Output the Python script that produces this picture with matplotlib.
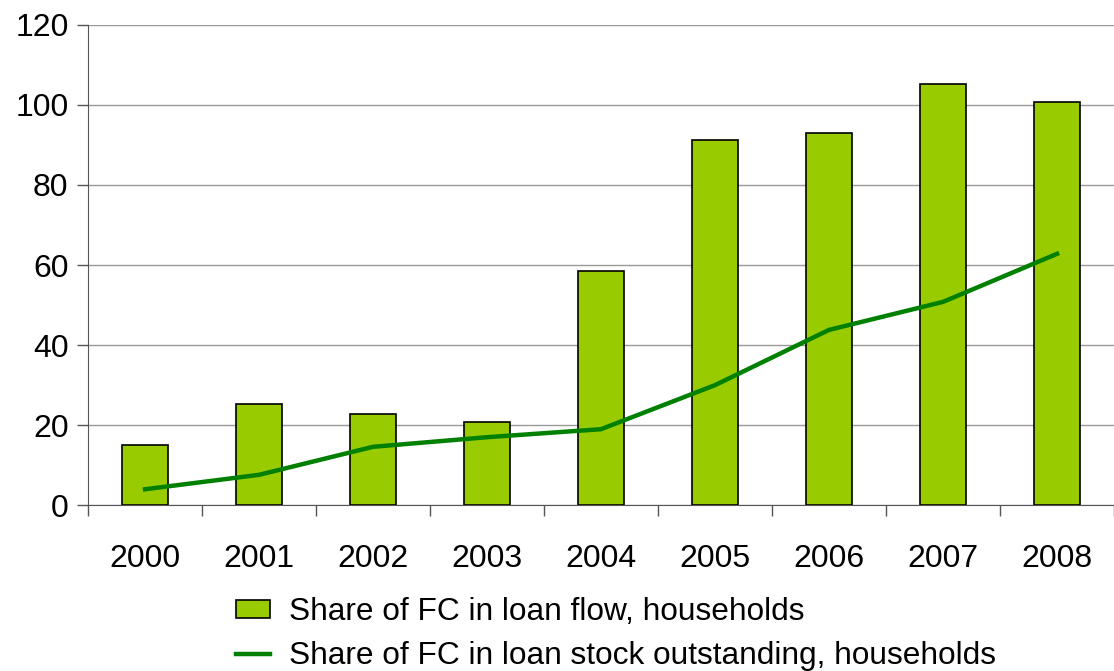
import numpy as np
import matplotlib.pyplot as plt

plt.rcParams['font.family'] = ['Liberation Sans', 'DejaVu Sans']

years = ['2000', '2001', '2002', '2003', '2004', '2005', '2006', '2007', '2008']
loan_flow = [15.0, 25.2, 22.9, 20.9, 58.6, 91.3, 93.1, 105.3, 100.7]
loan_stock = [4.0, 7.6, 14.6, 17.0, 19.0, 30.0, 43.8, 50.8, 62.8]

fig = plt.figure(figsize=(11.14, 6.71), dpi=100)
ax = fig.add_axes([0.079, 0.247, 0.921, 0.716])

x = np.arange(len(years))
bars = ax.bar(x, loan_flow, width=0.4, color='#99CC00', edgecolor='black', linewidth=1.2,
              label='Share of FC in loan flow, households', zorder=2)
line, = ax.plot(x, loan_stock, color='#008000', linewidth=3.2,
                label='Share of FC in loan stock outstanding, households', zorder=3)

ax.set_ylim(0, 120)
ax.set_yticks(range(0, 121, 20))
ax.set_xlim(-0.5, len(years) - 0.5)
ax.set_xticks(np.arange(-0.5, len(years), 1.0))
ax.set_xticklabels([])
ax.set_xticks(x, minor=True)
ax.set_xticklabels(years, minor=True)
ax.tick_params(axis='x', which='minor', length=0, pad=28, labelsize=23)
ax.tick_params(axis='x', which='major', length=8, width=1, color='#555555')
ax.tick_params(axis='y', length=8, width=1, color='#555555', labelsize=23, pad=6)

ax.yaxis.grid(True, color='#999999', linewidth=1)
ax.set_axisbelow(True)
for s in ['top', 'right']:
    ax.spines[s].set_visible(False)
ax.spines['left'].set_color('#555555')
ax.spines['bottom'].set_color('#555555')

fig.legend([bars, line], [bars.get_label(), line.get_label()],
           loc='upper center', bbox_to_anchor=(0.553, 0.11), frameon=False,
           fontsize=22.8, handlelength=1.05, handleheight=0.5, handletextpad=0.6,
           labelspacing=0.45, borderaxespad=0, borderpad=0)

fig.savefig('out.png', dpi=100)
